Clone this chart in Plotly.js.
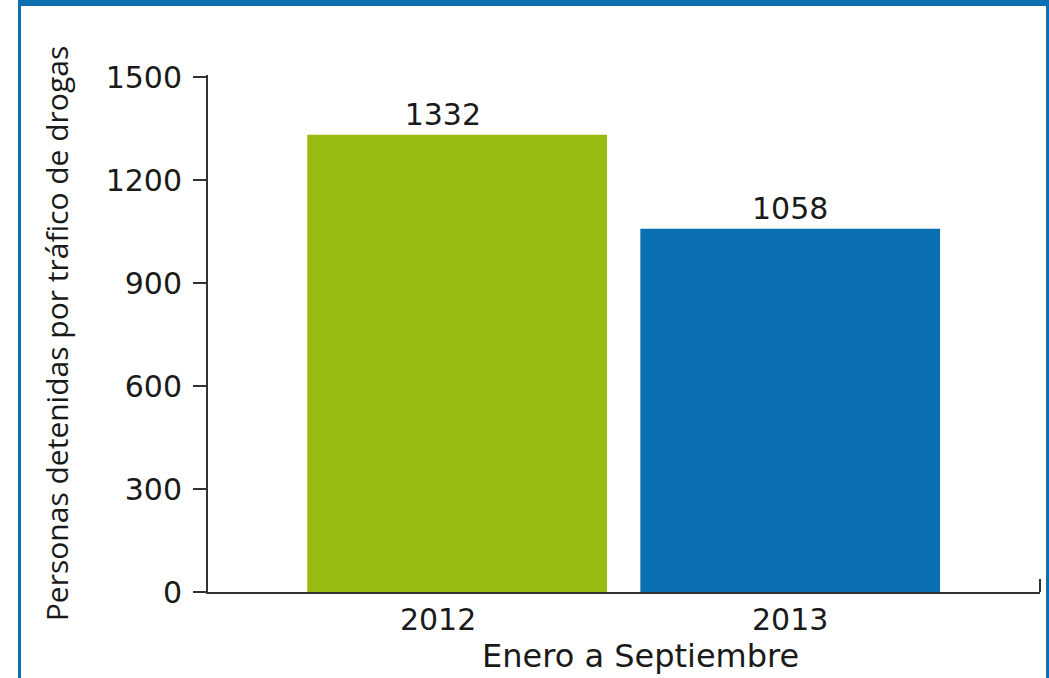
<!DOCTYPE html>
<html>
<head>
<meta charset="utf-8">
<script src="https://cdn.plot.ly/plotly-3.0.1.min.js"></script>
<style>
  html, body { margin: 0; padding: 0; background: #fff; }
  #wrap { position: relative; width: 1049px; height: 678px; overflow: hidden; }
  #chart { position: absolute; left: 0; top: 0; width: 1049px; height: 678px; }
  #frame { position: absolute; left: 18px; top: 0; width: 1031px; height: 678px;
           box-sizing: border-box; border-top: 6px solid #0B6FB0;
           border-left: 3px solid #0B6FB0; border-right: 3px solid #0B6FB0;
           border-bottom: none; pointer-events: none; }
</style>
</head>
<body>
<div id="wrap">
  <div id="chart"></div>
  <div id="frame"></div>
</div>
<script>
const categories = ["2012", "2013"];
const values = [1332, 1058];
const barColors = ["#98BB11", "#0B70B2"];
const yTickValues = [0, 300, 600, 900, 1200, 1500];
const yTickLabels = ["0", "300", "600", "900", "1200", "1500"];
const xTitle = "Enero a Septiembre";
const yTitle = "Personas detenidas por tráfico de drogas";

const wideFont = "DejaVu Sans, Verdana, sans-serif";
const titleFont = "Open Sans, Noto Sans, sans-serif";
const textColor = "#1a1a1a";
const NB = "\u00a0";

// label padding only nudges the first column's labels slightly left, as in the reference
const tickPad = [NB.repeat(4), ""];
const barPad = [NB.repeat(3), ""];

const trace = {
  type: "bar",
  x: categories,
  y: values,
  width: 0.9,
  marker: { color: barColors },
  text: values.map((v, i) => String(v) + barPad[i]),
  textposition: "outside",
  cliponaxis: false,
  textfont: { family: wideFont, size: 30, color: textColor },
  hoverinfo: "skip"
};

const layout = {
  width: 1049,
  height: 678,
  margin: { l: 208, r: 9, t: 75, b: 86, pad: 0 },
  paper_bgcolor: "#fff",
  plot_bgcolor: "#fff",
  showlegend: false,
  font: { family: wideFont, color: textColor },
  xaxis: {
    type: "category",
    range: [-0.748, 1.75],
    tickmode: "array",
    tickvals: categories,
    ticktext: categories.map((c, i) => c + tickPad[i]),
    showline: true,
    linecolor: "#333",
    linewidth: 2,
    ticks: "",
    showgrid: false,
    zeroline: false,
    tickfont: { family: wideFont, size: 30, color: textColor }
  },
  yaxis: {
    range: [0, 1506],
    tickvals: yTickValues,
    ticktext: yTickLabels,
    showline: true,
    linecolor: "#333",
    linewidth: 2,
    ticks: "outside",
    ticklen: 13,
    tickwidth: 1.5,
    tickcolor: "#333",
    ticklabelstandoff: 5,
    showgrid: false,
    zeroline: false,
    tickfont: { family: wideFont, size: 30, color: textColor },
    title: { text: yTitle, font: { family: titleFont, size: 30, color: textColor }, standoff: 28 }
  },
  annotations: [
    { text: xTitle, xref: "paper", yref: "paper", x: 0.5204, y: -0.124,
      xanchor: "center", yanchor: "middle", showarrow: false,
      font: { family: wideFont, size: 32, color: textColor } }
  ],
  shapes: [
    { type: "line", xref: "paper", yref: "paper", x0: 1, x1: 1, y0: 0, y1: 0.025,
      line: { color: "#333", width: 2 } }
  ]
};

Plotly.newPlot("chart", [trace], layout, { displayModeBar: false, staticPlot: true });
</script>
</body>
</html>
